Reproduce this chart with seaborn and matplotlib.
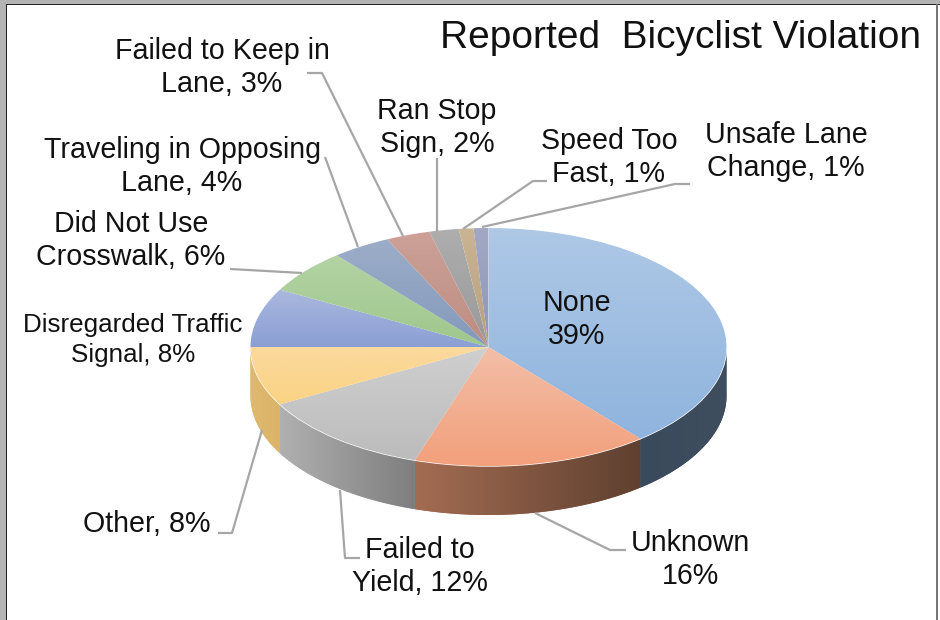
import numpy as np
import matplotlib
matplotlib.use("Agg")
import matplotlib.pyplot as plt
from matplotlib.colors import to_rgb
from matplotlib.patches import Polygon, Rectangle
import seaborn as sns

categories = ["None", "Unknown", "Failed to Yield", "Other", "Disregarded Traffic Signal",
              "Did Not Use Crosswalk", "Traveling in Opposing Lane", "Failed to Keep in Lane",
              "Ran Stop Sign", "Speed Too Fast", "Unsafe Lane Change"]
values = [39, 16, 12, 8, 8, 6, 4, 3, 2, 1, 1]
label_texts = ["None\n39%", "Unknown\n16%", "Failed to\nYield, 12%", "Other, 8%",
               "Disregarded Traffic\nSignal, 8%", "Did Not Use\nCrosswalk, 6%",
               "Traveling in Opposing\nLane, 4%", "Failed to Keep in\nLane, 3%",
               "Ran Stop\nSign, 2%", "Speed Too\nFast, 1%", "Unsafe Lane\nChange, 1%"]
top_light = ["#aec8e6", "#f2bea7", "#cfcfcf", "#fbd99e", "#abb8df", "#b3d3a4",
             "#9badc8", "#cda198", "#aeaeae", "#cab494", "#a2a8c4"]
top_dark = ["#8fb4de", "#f3a07c", "#bcbcbc", "#fbd384", "#8a9fd4", "#9fc78c",
            "#8499bb", "#bc8d82", "#999999", "#b8a080", "#8f97b8"]
side_left = ["#394a5c", "#a36c52", "#b0b0b0", "#dfb96f", "#7f90bb", "#8fae7c",
             "#7587a3", "#a57a70", "#888888", "#a08b6e", "#80869f"]
side_right = ["#3f4e5f", "#5f4030", "#7e7e7e", "#dbb46a", "#7f90bb", "#8fae7c",
              "#7587a3", "#a57a70", "#888888", "#a08b6e", "#80869f"]

W, H = 940, 620
CX, CY, RX, RY, DEPTH = 488.5, 347.0, 238.0, 119.0, 49.0

sns.set_theme(style="white")
plt.rcParams["font.family"] = ["Liberation Sans", "DejaVu Sans"]
palette = sns.color_palette(top_light)

fig = plt.figure(figsize=(W / 100, H / 100), dpi=100, facecolor="white")
ax = fig.add_axes([0, 0, 1, 1])
wedges, _ = ax.pie(values, colors=palette, startangle=90, counterclock=False, radius=1)
ax.set_aspect("auto")
xlim = ((0 - CX) / RX, (W - CX) / RX)
ylim = ((CY - H) / RY, CY / RY)
ax.set_xlim(xlim)
ax.set_ylim(ylim)
ax.set_axis_off()
d = DEPTH / RY


def ramp(c0, c1, n=64):
    a, b = np.array(to_rgb(c0)), np.array(to_rgb(c1))
    return a + (b - a) * np.linspace(0, 1, n)[:, None]


fractions = np.cumsum([0] + values) / sum(values) * 2 * np.pi
for i, w in enumerate(wedges):
    t0, t1 = fractions[i], fractions[i + 1]
    lo, hi = max(t0, np.pi / 2), min(t1, 3 * np.pi / 2)
    if hi > lo:
        ts = np.linspace(lo, hi, 80)
        xs, ys = np.sin(ts), np.cos(ts)
        pts = np.r_[np.c_[xs, ys], np.c_[xs[::-1], ys[::-1] - d]]
        side = Polygon(pts, closed=True, facecolor=side_left[i], edgecolor="none", zorder=1)
        ax.add_patch(side)
        grad = ramp(side_left[i], side_right[i])[None, :, :]
        im = ax.imshow(grad, extent=(xs.min(), xs.max(), ys.min() - d, ys.max()),
                       aspect="auto", zorder=1.5, interpolation="bilinear")
        im.set_clip_path(side)
    ts = np.linspace(t0, t1, 80)
    y_top, y_bot = max(0, np.cos(ts).max()), min(0, np.cos(ts).min())
    x_lo, x_hi = min(0, np.sin(ts).min()), max(0, np.sin(ts).max())
    w.set_zorder(2)
    grad = ramp(top_light[i], top_dark[i])[:, None, :]
    im = ax.imshow(grad, extent=(x_lo, x_hi, y_bot, y_top), origin="upper",
                   aspect="auto", zorder=2.5, interpolation="bilinear")
    im.set_clip_path(w)
ax.set_xlim(xlim)
ax.set_ylim(ylim)

ov = fig.add_axes([0, 0, 1, 1], zorder=5)
ov.set_xlim(0, W)
ov.set_ylim(H, 0)
ov.set_axis_off()
ov.patch.set_alpha(0)

leaders = [
    [(535, 513), (610, 550), (626, 550)],
    [(340, 490), (345, 558), (360, 558)],
    [(262, 430), (232, 533), (218, 533)],
    [(302, 273), (230, 269)],
    [(358, 247), (325, 157)],
    [(403, 236), (322, 73), (307, 73)],
    [(437, 232), (437, 158)],
    [(463, 229), (533, 181), (547, 181)],
    [(482, 227), (675, 184), (690, 184)],
]
for pts in leaders:
    p = np.array(pts)
    ov.plot(p[:, 0], p[:, 1], color="#a6a6a6", lw=1.6, solid_capstyle="butt", zorder=1)

label_pos = [(577, 319.5, 20.6), (690, 559.5, 20.6), (420, 566.5, 20.6), (147, 524.5, 20.6),
             (133, 340, 18.7), (131, 240.5, 20.6), (182, 166.5, 20.6), (222, 67.5, 20.6),
             (437, 127.5, 20.6), (609, 157.5, 20.6), (786, 151.5, 20.6)]
for txt, (x, y, fs) in zip(label_texts, label_pos):
    ov.text(x, y, txt, ha="center", va="center", fontsize=fs, color="#111111",
            linespacing=1.3 if fs < 20 else 1.22, zorder=3)
ov.text(681, 38.5, "Reported  Bicyclist Violation", ha="center", va="center",
        fontsize=28, color="#111111", zorder=3)

# screenshot window frame
ov.add_patch(Rectangle((0, 0), 6, H, facecolor="#b4b4b4", edgecolor="none", zorder=4))
ov.add_patch(Rectangle((0, 0), W, 3.5, facecolor="#b4b4b4", edgecolor="none", zorder=4))
ov.add_patch(Rectangle((6, 3.5), 1.2, H, facecolor="#222222", edgecolor="none", zorder=4))
ov.add_patch(Rectangle((6, 3.5), W, 1.2, facecolor="#222222", edgecolor="none", zorder=4))
ov.add_patch(Rectangle((936, 3.5), 2, H, facecolor="#777777", edgecolor="none", zorder=4))

fig.savefig("out.png", dpi=100, facecolor="white")
